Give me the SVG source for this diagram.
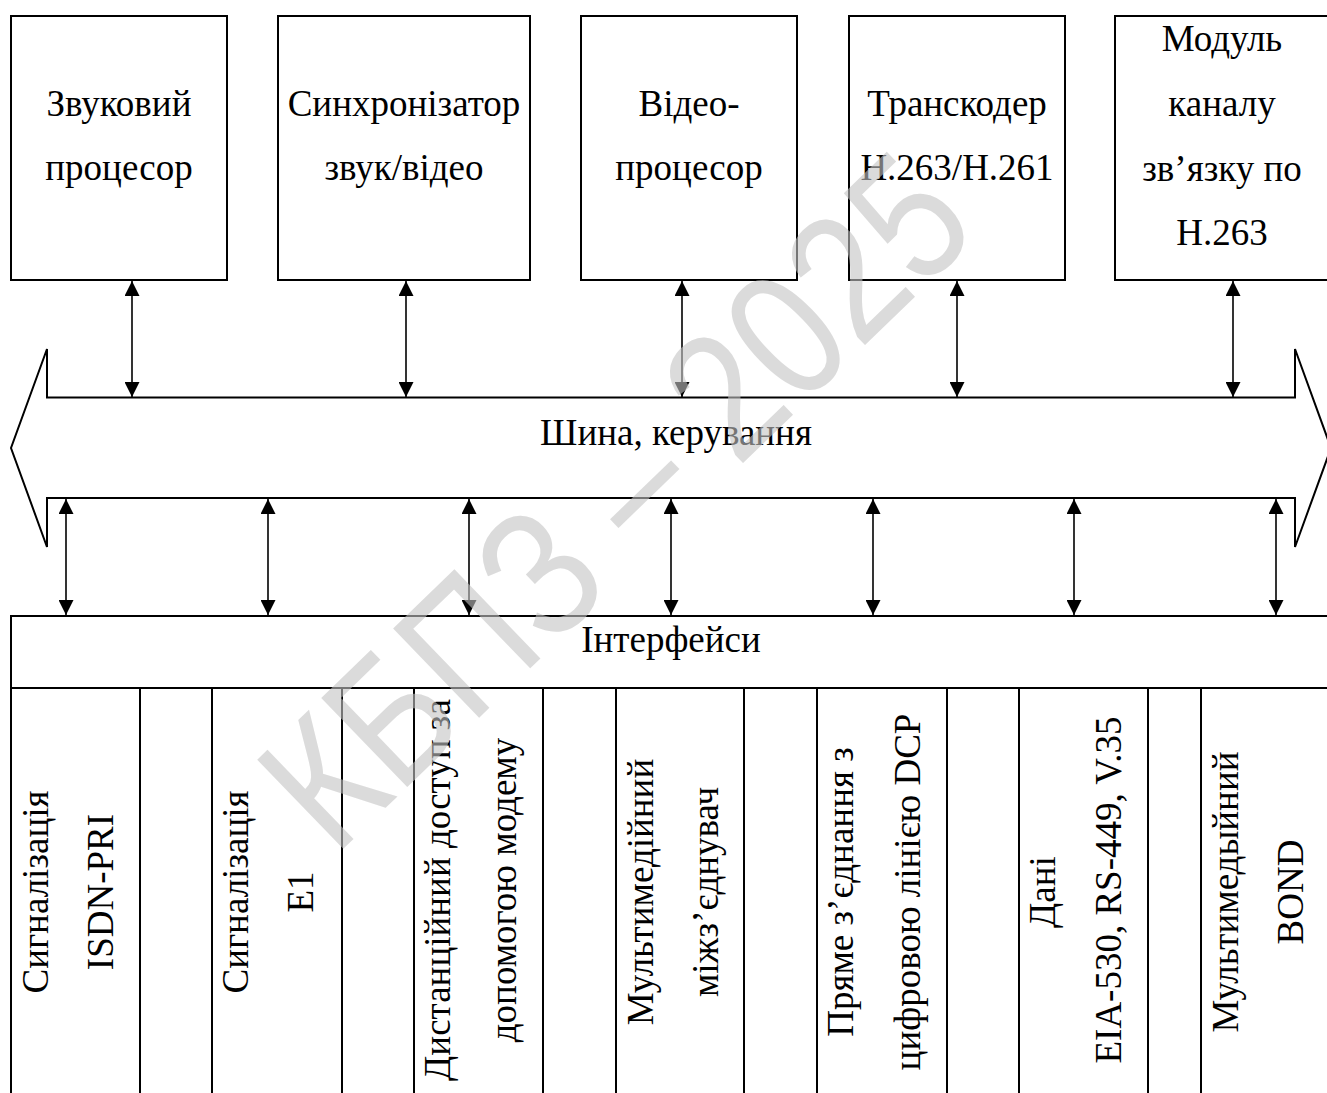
<svg xmlns="http://www.w3.org/2000/svg" width="1327" height="1093" viewBox="0 0 1327 1093">
<style>
  .box { fill: #fff; stroke: #000; stroke-width: 2; }
  .ln { fill: none; stroke: #000; stroke-width: 2; }
  .t { font-family: "Liberation Serif", "Times New Roman", serif; font-size: 37px; fill: #000; text-anchor: middle; }
  .c { stroke: #000; stroke-width: 1.6; fill: none; marker-start: url(#ah); marker-end: url(#ah); }
  .wm { font-family: "Liberation Sans", Arial, sans-serif; font-size: 180px; fill: #c4c4c4; opacity: 0.6; text-anchor: middle; }
</style>
<defs>
  <marker id="ah" viewBox="0 0 15 15" refX="15" refY="7.5" markerWidth="15" markerHeight="15" markerUnits="userSpaceOnUse" orient="auto-start-reverse">
    <path d="M0,0 L15,7.5 L0,15 z" fill="#000"/>
  </marker>
</defs>
<rect width="1327" height="1093" fill="#fff"/>

<g id="node-sound">
  <rect class="box" x="11" y="16" width="216" height="264"/>
  <text class="t" x="119" y="116">Звуковий</text>
  <text class="t" x="119" y="180">процесор</text>
</g>
<g id="node-sync">
  <rect class="box" x="278" y="16" width="252" height="264"/>
  <text class="t" x="404" y="116">Синхронізатор</text>
  <text class="t" x="404" y="180">звук/відео</text>
</g>
<g id="node-video">
  <rect class="box" x="581" y="16" width="216" height="264"/>
  <text class="t" x="689" y="116">Відео-</text>
  <text class="t" x="689" y="180">процесор</text>
</g>
<g id="node-transcoder">
  <rect class="box" x="849" y="16" width="216" height="264"/>
  <text class="t" x="957" y="116">Транскодер</text>
  <text class="t" x="957" y="180">H.263/H.261</text>
</g>
<g id="node-module">
  <rect class="box" x="1115" y="16" width="215" height="264"/>
  <text class="t" x="1222" y="51">Модуль</text>
  <text class="t" x="1222" y="116">каналу</text>
  <text class="t" x="1222" y="181">зв’язку по</text>
  <text class="t" x="1222" y="245">H.263</text>
</g>

<g id="node-bus">
  <polygon class="box" points="47,397.5 1295,397.5 1295,349 1331,448 1295,547 1295,498 47,498 47,547 11,448 47,349"/>
  <text class="t" x="676" y="445">Шина, керування</text>
</g>

<g id="node-interfaces">
  <rect class="box" x="11" y="616" width="1330" height="500"/>
  <line class="ln" x1="11" y1="688" x2="1330" y2="688"/>
  <text class="t" x="671" y="652">Інтерфейси</text>
  <g class="ln">
    <line x1="140" y1="688" x2="140" y2="1100"/>
    <line x1="212" y1="688" x2="212" y2="1100"/>
    <line x1="342" y1="688" x2="342" y2="1100"/>
    <line x1="414" y1="688" x2="414" y2="1100"/>
    <line x1="543" y1="688" x2="543" y2="1100"/>
    <line x1="616" y1="688" x2="616" y2="1100"/>
    <line x1="744" y1="688" x2="744" y2="1100"/>
    <line x1="817" y1="688" x2="817" y2="1100"/>
    <line x1="947" y1="688" x2="947" y2="1100"/>
    <line x1="1019" y1="688" x2="1019" y2="1100"/>
    <line x1="1148" y1="688" x2="1148" y2="1100"/>
    <line x1="1201" y1="688" x2="1201" y2="1100"/>
  </g>
</g>
<g id="node-isdn">
  <text class="t" transform="translate(48,892) rotate(-90)">Сигналізація</text>
  <text class="t" transform="translate(113,892) rotate(-90)">ISDN-PRI</text>
</g>
<g id="node-e1">
  <text class="t" transform="translate(248,892) rotate(-90)">Сигналізація</text>
  <text class="t" transform="translate(313,892) rotate(-90)">E1</text>
</g>
<g id="node-modem">
  <text class="t" transform="translate(450,890) rotate(-90)">Дистанційний доступ за</text>
  <text class="t" transform="translate(516,890) rotate(-90)">допомогою модему</text>
</g>
<g id="node-mcu">
  <text class="t" transform="translate(653,892) rotate(-90)">Мультимедійний</text>
  <text class="t" transform="translate(718,892) rotate(-90)">міжз’єднувач</text>
</g>
<g id="node-dcp">
  <text class="t" transform="translate(853,892) rotate(-90)">Пряме з’єднання з</text>
  <text class="t" transform="translate(920,892) rotate(-90)">цифровою лінією DCP</text>
</g>
<g id="node-data">
  <text class="t" transform="translate(1055,892) rotate(-90)">Дані</text>
  <text class="t" transform="translate(1121,890) rotate(-90)">EIA-530, RS-449, V.35</text>
</g>
<g id="node-bond">
  <text class="t" transform="translate(1238,892) rotate(-90)">Мультимедыйний</text>
  <text class="t" transform="translate(1303,892) rotate(-90)">BOND</text>
</g>

<g id="connectors">
  <line class="c" x1="132" y1="281" x2="132" y2="397"/>
  <line class="c" x1="406" y1="281" x2="406" y2="397"/>
  <line class="c" x1="682" y1="281" x2="682" y2="397"/>
  <line class="c" x1="957" y1="281" x2="957" y2="397"/>
  <line class="c" x1="1233" y1="281" x2="1233" y2="397"/>
  <line class="c" x1="66" y1="499" x2="66" y2="615"/>
  <line class="c" x1="268" y1="499" x2="268" y2="615"/>
  <line class="c" x1="469" y1="499" x2="469" y2="615"/>
  <line class="c" x1="671" y1="499" x2="671" y2="615"/>
  <line class="c" x1="873" y1="499" x2="873" y2="615"/>
  <line class="c" x1="1074" y1="499" x2="1074" y2="615"/>
  <line class="c" x1="1276" y1="499" x2="1276" y2="615"/>
</g>

<text class="wm" transform="translate(658,545) rotate(-44)" textLength="900" lengthAdjust="spacingAndGlyphs">КБПЗ – 2025</text>
</svg>
